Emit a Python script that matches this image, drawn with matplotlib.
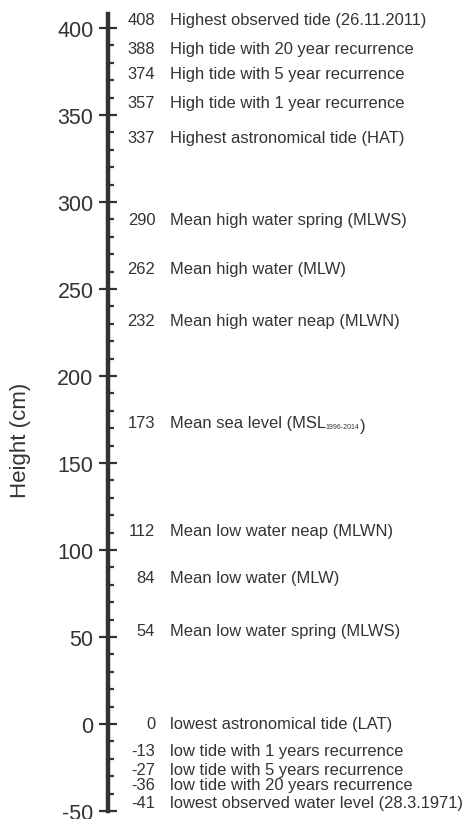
import matplotlib.pyplot as plt
from matplotlib.ticker import MultipleLocator

plt.rcParams['font.family'] = ['Liberation Sans', 'DejaVu Sans']
plt.rcParams['axes.unicode_minus'] = False

levels = [408, 388, 374, 357, 337, 290, 262, 232, 173, 112, 84, 54, 0, -13, -27, -36, -41]
names = ['Highest observed tide (26.11.2011)',
         'High tide with 20 year recurrence',
         'High tide with 5 year recurrence',
         'High tide with 1 year recurrence',
         'Highest astronomical tide (HAT)',
         'Mean high water spring (MLWS)',
         'Mean high water (MLW)',
         'Mean high water neap (MLWN)',
         'Mean sea level (MSL',
         'Mean low water neap (MLWN)',
         'Mean low water (MLW)',
         'Mean low water spring (MLWS)',
         'lowest astronomical tide (LAT)',
         'low tide with 1 years recurrence',
         'low tide with 5 years recurrence',
         'low tide with 20 years recurrence',
         'lowest observed water level (28.3.1971)']
# where the labels sit (nudged where they would collide)
label_y = [405, 388, 374, 357, 337, 290, 262, 232, 173, 111, 84, 54, 0, -15.5, -26, -35, -45]

col = '#333333'
fs = 11.9
fig = plt.figure(figsize=(4.64, 8.2), dpi=100)
ax = fig.add_axes([108/464, 8/820, 0.5, 800.4/820])
ax.set_ylim(-50, 410)
ax.set_xlim(0, 1)

for s in ['top', 'right', 'bottom']:
    ax.spines[s].set_visible(False)
ax.spines['left'].set_bounds(-50, 408)
ax.spines['left'].set_linewidth(3.2)
ax.spines['left'].set_color(col)
ax.set_xticks([])
ax.yaxis.set_major_locator(MultipleLocator(50))
ax.set_yticks(list(range(-50, 401, 10)), minor=True)
ax.tick_params(axis='y', which='major', direction='inout', length=13, width=1.6,
               color=col, labelsize=15.5, labelcolor=col, pad=4)
ax.tick_params(axis='y', which='minor', direction='in', length=4.5, width=1.6, color=col)
ax.set_ylabel('Height (cm)', fontsize=16, color=col)
ax.yaxis.set_label_coords(-0.33, 0.464)

for v, ly, n in zip(levels, label_y, names):
    ax.annotate(str(v), xy=(0, ly), xycoords=('axes fraction', 'data'),
                xytext=(34, 0), textcoords='offset points',
                ha='right', va='center', fontsize=fs, color=col)
    t = ax.annotate(n, xy=(0, ly), xycoords=('axes fraction', 'data'),
                    xytext=(44.5, 0), textcoords='offset points',
                    ha='left', va='center', fontsize=fs, color=col)
    if v == 173:
        sub = ax.annotate('1996-2014', xy=(1, 0.05), xycoords=t,
                          ha='left', va='bottom', fontsize=5, color=col)
        ax.annotate(')', xy=(1, 0), xycoords=sub, xytext=(0.5, -2.3),
                    textcoords='offset points', ha='left', va='bottom',
                    fontsize=fs, color=col)

fig.savefig('out.png', dpi=100)
